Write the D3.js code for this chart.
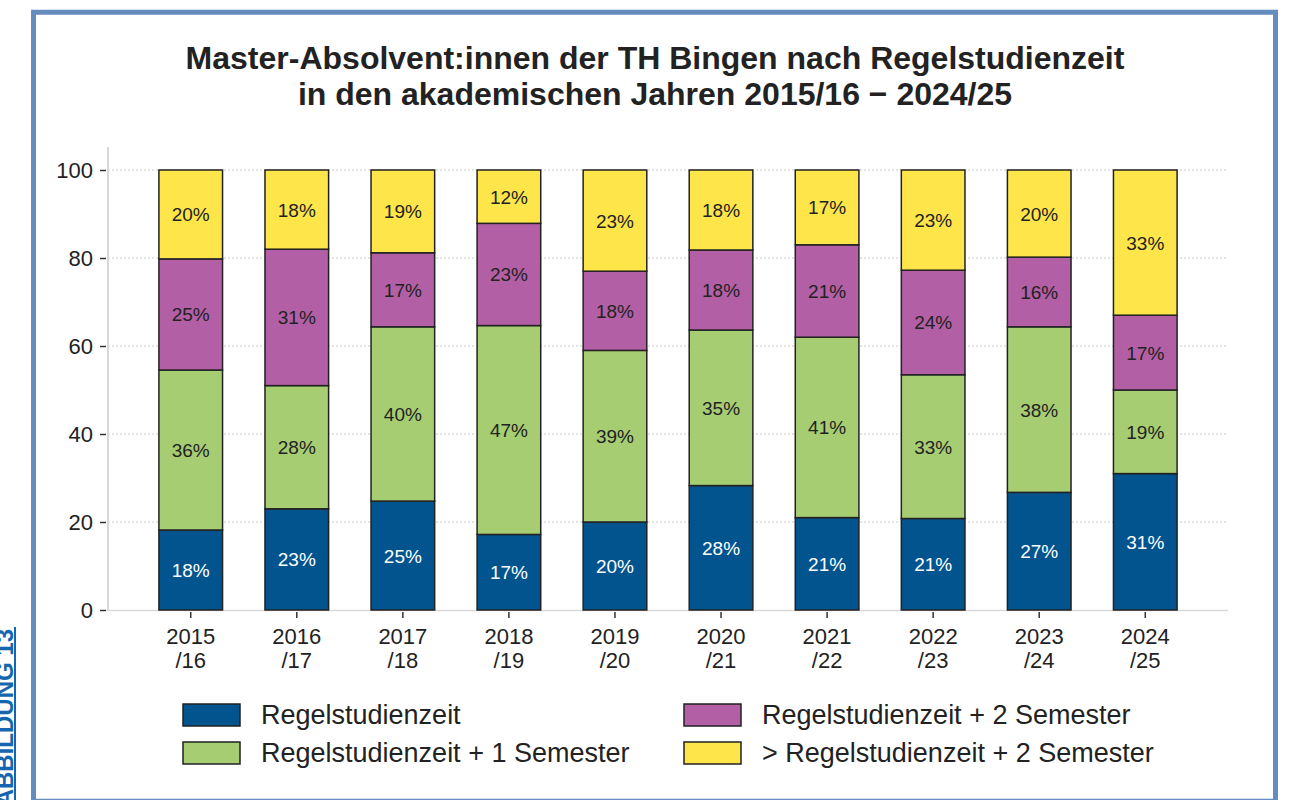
<!DOCTYPE html>
<meta charset="utf-8">
<body style="margin:0;background:#fff">
<div id="chart"></div>
</body>
<style>
	text { font-family: "Liberation Sans", Arial, sans-serif; }
</style>
<script src="https://cdn.jsdelivr.net/npm/d3@7"></script>
<script>

// Academic years and the share of graduates (in %) per group, as printed in the bars
var years = ["2015/16", "2016/17", "2017/18", "2018/19", "2019/20",
	"2020/21", "2021/22", "2022/23", "2023/24", "2024/25"];
var regel = [18, 23, 25, 17, 20, 28, 21, 21, 27, 31];
var plus1 = [36, 28, 40, 47, 39, 35, 41, 33, 38, 19];
var plus2 = [25, 31, 17, 23, 18, 18, 21, 24, 16, 17];
var over2 = [20, 18, 19, 12, 23, 18, 17, 23, 20, 33];

var seriesNames = ["Regelstudienzeit", "Regelstudienzeit + 1 Semester",
	"Regelstudienzeit + 2 Semester", "> Regelstudienzeit + 2 Semester"];
var yTicks = [0, 20, 40, 60, 80, 100];

var colors = ["#02548f", "#a6cd72", "#b35fa5", "#fee64a"];
var width = 1290,
	height = 800;

var svg = d3.select("#chart").append("svg")
	.attr("width", width)
	.attr("height", height);

// Build rows for the stack
var keys = ["regel", "plus1", "plus2", "over2"];
var rows = years.map(function (y, i) {
	return { year: y, regel: regel[i], plus1: plus1[i], plus2: plus2[i], over2: over2[i] };
});
// bars are drawn to 100 %, so normalise each year
var stacked = d3.stack().keys(keys).offset(d3.stackOffsetExpand)(rows);

var x = d3.scaleBand()
	.domain(years)
	.range([108, 1228])
	.paddingInner(0.4)
	.paddingOuter(0.48);

var y = d3.scaleLinear()
	.domain([0, 100])
	.range([610, 170]);

// outer frame
svg.append("rect")
	.attr("x", 33.5).attr("y", 12.25)
	.attr("width", 1242).attr("height", 789)
	.attr("fill", "none")
	.attr("stroke", "#648cbe")
	.attr("stroke-width", 5);

// side label, mostly cut off at the page edge (as in the source page)
svg.append("text")
	.attr("transform", "translate(12.5,629) rotate(-90)")
	.attr("text-anchor", "end")
	.attr("font-size", 24)
	.attr("font-weight", "bold")
	.attr("fill", "#1565b0")
	.text("ABBILDUNG 13");
svg.append("line")
	.attr("x1", 15).attr("x2", 15)
	.attr("y1", 627).attr("y2", 800)
	.attr("stroke", "#1565b0")
	.attr("stroke-width", 2);

// title
var title = svg.append("text")
	.attr("text-anchor", "middle")
	.attr("font-size", 32)
	.attr("font-weight", "bold")
	.attr("fill", "#222");
title.append("tspan").attr("x", 655).attr("y", 69)
	.text("Master-Absolvent:innen der TH Bingen nach Regelstudienzeit");
title.append("tspan").attr("x", 655).attr("y", 105)
	.text("in den akademischen Jahren 2015/16 \u2212 2024/25");

// gridlines
svg.append("g")
	.selectAll("line")
	.data(yTicks.slice(1))
	.enter().append("line")
	.attr("x1", 108).attr("x2", 1228)
	.attr("y1", function (d) { return y(d); })
	.attr("y2", function (d) { return y(d); })
	.attr("stroke", "#c8c8c8")
	.attr("stroke-dasharray", "2,2");

// axis lines
svg.append("line")
	.attr("x1", 108).attr("x2", 108)
	.attr("y1", 147).attr("y2", 611)
	.attr("stroke", "#d9d9d9").attr("stroke-width", 2);
svg.append("line")
	.attr("x1", 107).attr("x2", 1228)
	.attr("y1", 610.5).attr("y2", 610.5)
	.attr("stroke", "#d9d9d9").attr("stroke-width", 1.5);

// y axis
var yAxis = svg.append("g")
	.attr("transform", "translate(106,0)")
	.call(d3.axisLeft(y).tickValues(yTicks).tickSize(6).tickPadding(7).tickSizeOuter(0));
yAxis.select(".domain").remove();
yAxis.selectAll("line").attr("stroke", "#333").attr("stroke-width", 1.5);
yAxis.selectAll("text")
	.attr("font-size", 22)
	.attr("fill", "#222")
	.style("font-family", "'Liberation Sans', Arial, sans-serif");

// x axis with two-line labels
var xAxis = svg.append("g")
	.attr("transform", "translate(0,612)")
	.call(d3.axisBottom(x).tickSize(6).tickSizeOuter(0));
xAxis.select(".domain").remove();
xAxis.selectAll("line").attr("stroke", "#333").attr("stroke-width", 1.5);
xAxis.selectAll("text")
	.attr("font-size", 22)
	.attr("fill", "#222")
	.style("font-family", "'Liberation Sans', Arial, sans-serif")
	.attr("y", null).attr("dy", null)
	.each(function (d) {
		var t = d3.select(this).text(null);
		var parts = d.split("/");
		t.append("tspan").attr("x", 0).attr("y", 32).text(parts[0]);
		t.append("tspan").attr("x", 0).attr("y", 56).text("/" + parts[1]);
	});

// bars
var layers = svg.append("g")
	.selectAll("g")
	.data(stacked)
	.enter().append("g")
	.attr("fill", function (d, i) { return colors[i]; });

layers.selectAll("rect")
	.data(function (d) { return d; })
	.enter().append("rect")
	.attr("x", function (d) { return x(d.data.year); })
	.attr("width", x.bandwidth())
	.attr("y", function (d) { return y(d[1] * 100); })
	.attr("height", function (d) { return y(d[0] * 100) - y(d[1] * 100); })
	.attr("stroke", "#222")
	.attr("stroke-width", 1.5);

// value labels
layers.selectAll("text")
	.data(function (d) { return d.map(function (p) { p.key = d.key; p.idx = d.index; return p; }); })
	.enter().append("text")
	.attr("x", function (d) { return x(d.data.year) + x.bandwidth() / 2; })
	.attr("y", function (d) { return (y(d[0] * 100) + y(d[1] * 100)) / 2 + 7; })
	.attr("text-anchor", "middle")
	.attr("font-size", 19)
	.attr("fill", function (d) { return d.idx === 0 ? "#fff" : "#222"; })
	.text(function (d) { return d.data[d.key] + "%"; });

// legend
var legendPos = [[183, 704], [183, 742], [684, 704], [684, 742]];
var legend = svg.append("g")
	.selectAll("g")
	.data(seriesNames)
	.enter().append("g")
	.attr("transform", function (d, i) { return "translate(" + legendPos[i][0] + "," + legendPos[i][1] + ")"; });
legend.append("rect")
	.attr("width", 57).attr("height", 22)
	.attr("fill", function (d, i) { return colors[i]; })
	.attr("stroke", "#222")
	.attr("stroke-width", 1.5);
legend.append("text")
	.attr("x", 78).attr("y", 20)
	.attr("font-size", 27)
	.attr("fill", "#222")
	.text(function (d) { return d; });
</script>
